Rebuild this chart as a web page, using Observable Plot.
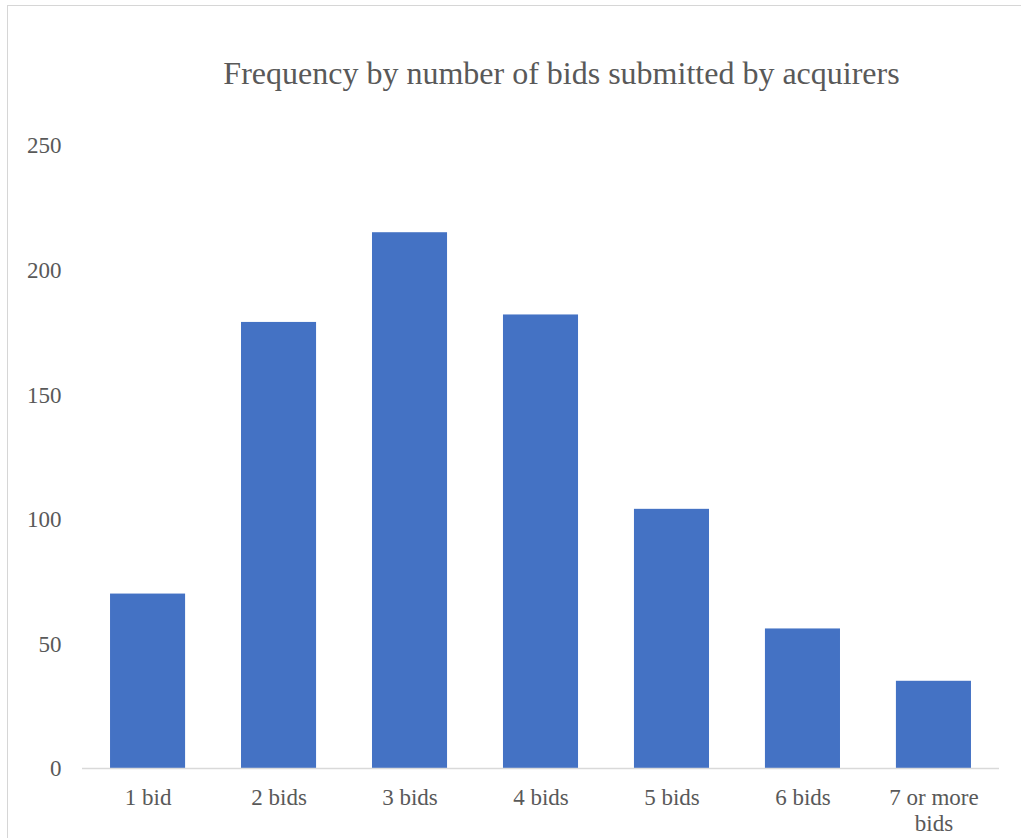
<!DOCTYPE html>
<html>
<head>
<meta charset="utf-8">
<script src="https://cdn.jsdelivr.net/npm/d3@7"></script>
<script src="https://cdn.jsdelivr.net/npm/@observablehq/plot@0.6"></script>
<style>
  html, body { margin: 0; padding: 0; background: #fff; overflow: hidden; }
  #wrap { position: relative; width: 1021px; height: 838px; }
  #frame { position: absolute; left: 7px; top: 5px; width: 1020px; height: 900px; border: 1px solid #d6d6d6; box-sizing: border-box; }
  #title { position: absolute; left: 0; top: 56px; width: 1123px; text-align: center;
           font-family: "Liberation Serif", "DejaVu Serif", serif; font-size: 32px; line-height: 34px; color: #595959; }
  #chart { position: absolute; left: 0; top: 0; }
  #chart svg text { font-family: "Liberation Serif", "DejaVu Serif", serif; }
</style>
</head>
<body>
<div id="wrap">
  <div id="frame"></div>
  <div id="chart"></div>
  <div id="title">Frequency by number of bids submitted by acquirers</div>
</div>
<script>
const categories = ["1 bid", "2 bids", "3 bids", "4 bids", "5 bids", "6 bids", "7 or more bids"];
const frequencies = [70, 179, 215, 182, 104, 56, 35];
const yTicks = [0, 50, 100, 150, 200, 250];

const data = categories.map((c, i) => ({category: c, value: frequencies[i]}));
const labelLines = {"7 or more bids": "7 or more\nbids"};

const chart = Plot.plot({
  width: 1021,
  height: 838,
  marginLeft: 82,
  marginRight: 22,
  marginTop: 145,
  marginBottom: 70,
  style: {fontFamily: "'Liberation Serif', 'DejaVu Serif', serif", fontSize: "23px", color: "#595959", background: "transparent"},
  x: {domain: categories, paddingInner: 0.427, paddingOuter: 0.214, round: false, label: null},
  y: {domain: [0, 250], label: null},
  marks: [
    Plot.barY(data, {x: "category", y: "value", fill: "#4472C4"}),
    Plot.ruleY([0], {stroke: "#d9d9d9", strokeWidth: 1.5}),
    Plot.axisY({ticks: yTicks, tickSize: 0, tickPadding: 21, label: null, fill: "#595959", fontSize: 23, dy: 0.5}),
    Plot.axisX({tickSize: 0, tickPadding: 18, label: null, fill: "#595959", fontSize: 23, lineHeight: 1.13,
                tickFormat: d => labelLines[d] || d})
  ]
});
document.getElementById("chart").appendChild(chart);
</script>
</body>
</html>
